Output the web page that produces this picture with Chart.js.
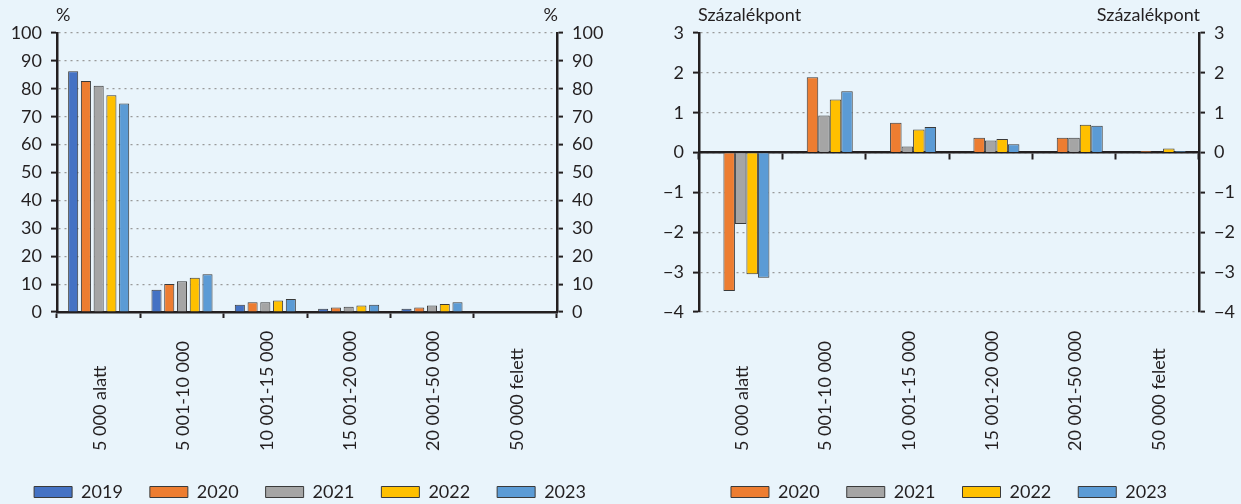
<!DOCTYPE html>
<html>
<head>
<meta charset="utf-8">
<script src="https://cdn.jsdelivr.net/npm/chart.js@4.4.1/dist/chart.umd.min.js"></script>
<style>
  html, body { margin: 0; padding: 0; background: #E9F4FB; }
  #wrap { position: relative; width: 1241px; height: 504px; }
  canvas { position: absolute; top: 0; }
</style>
</head>
<body>
<div id="wrap">
  <canvas id="left" width="620" height="504" style="left:0"></canvas>
  <canvas id="right" width="621" height="504" style="left:620px"></canvas>
</div>
<script>
const categories = ['5 000 alatt', '5 001-10 000', '10 001-15 000', '15 001-20 000', '20 001-50 000', '50 000 felett'];
const years = ['2019', '2020', '2021', '2022', '2023'];
const colors = ['#4472C4', '#ED7D31', '#A5A5A5', '#FFC000', '#5B9BD5'];

// megoszlás (%)
const share2019 = [86.3, 8.0, 2.6, 1.2, 1.2, 0.1];
const share2020 = [82.8, 10.0, 3.5, 1.6, 1.6, 0.1];
const share2021 = [81.1, 11.0, 3.5, 1.9, 2.3, 0.1];
const share2022 = [77.7, 12.3, 4.1, 2.3, 2.9, 0.1];
const share2023 = [74.7, 13.5, 4.7, 2.6, 3.5, 0.1];

// változás előző évhez képest (százalékpont)
const change2019 = [null, null, null, null, null, null];
const change2020 = [-3.47, 1.89, 0.75, 0.37, 0.37, 0.04];
const change2021 = [-1.79, 0.93, 0.15, 0.30, 0.37, -0.01];
const change2022 = [-3.05, 1.33, 0.58, 0.34, 0.70, 0.10];
const change2023 = [-3.14, 1.54, 0.64, 0.21, 0.67, 0.04];

const leftTicks = [0, 10, 20, 30, 40, 50, 60, 70, 80, 90, 100];
const rightTicks = [-4, -3, -2, -1, 0, 1, 2, 3];

const ink = '#231F20';
Chart.defaults.font.family = 'Lato';
Chart.defaults.font.size = 18;
Chart.defaults.color = ink;

// unit titles and rotated category labels
const extraText = {
  id: 'extraText',
  afterDraw(chart, args, opts) {
    const { ctx, chartArea, scales } = chart;
    ctx.save();
    ctx.fillStyle = ink;
    ctx.font = '18px Lato';
    ctx.textBaseline = 'alphabetic';
    ctx.textAlign = 'left';
    ctx.fillText(opts.unit, chartArea.left - 1, 21);
    ctx.textAlign = 'right';
    ctx.fillText(opts.unit, chartArea.right + 1, 21);

    ctx.textAlign = 'left';
    ctx.textBaseline = 'middle';
    categories.forEach((c, i) => {
      const x = scales.x.getPixelForValue(i);
      ctx.save();
      ctx.translate(x + 1.5, 451);
      ctx.rotate(-Math.PI / 2);
      ctx.fillText(c, 0, 0);
      ctx.restore();
    });
    ctx.restore();
  }
};

function yAxis(pos, ticks, width, main) {
  return {
    position: pos,
    min: ticks[0],
    max: ticks[ticks.length - 1],
    afterBuildTicks: s => { s.ticks = ticks.map(v => ({ value: v })); },
    afterFit: s => { s.width = width; },
    border: { color: ink, width: 2.5, dash: [2, 4] },
    grid: { drawOnChartArea: main, color: '#9A9A9A', lineWidth: 1.2, tickColor: ink, tickLength: 6, tickWidth: 2 },
    ticks: { autoSkip: false, padding: 9, color: ink, callback: v => String(v).replace('-', '\u2212') }
  };
}

function makeSets(series, names) {
  return series.map((data, i) => ({
    label: names[i],
    data: data,
    backgroundColor: colors[i],
    borderColor: '#3A3A3A',
    borderWidth: 1
  }));
}

function legendOpts(full) {
  return {
    position: 'bottom',
    fullSize: full,
    labels: {
      boxWidth: 38,
      boxHeight: 11,
      padding: 27,
      color: ink,
      font: { size: 18 },
      filter: (item, data) => data.datasets[item.datasetIndex].data.some(v => v !== null)
    }
  };
}

new Chart(document.getElementById('left'), {
  type: 'bar',
  data: {
    labels: categories,
    datasets: makeSets([share2019, share2020, share2021, share2022, share2023], years)
  },
  options: {
    responsive: false,
    animation: false,
    categoryPercentage: 0.765,
    barPercentage: 0.79,
    layout: { padding: { top: 33, bottom: -7, left: 0, right: 0 } },
    scales: {
      x: {
        afterFit: s => { s.height = 144; },
        border: { color: ink, width: 2.5 },
        grid: { drawOnChartArea: false, offset: true, tickColor: ink, tickLength: 6, tickWidth: 2 },
        ticks: { display: false }
      },
      y: yAxis('left', leftTicks, 57, true),
      y2: yAxis('right', leftTicks, 63, false)
    },
    plugins: {
      legend: legendOpts(true),
      tooltip: { enabled: false },
      extraText: { unit: '%' }
    }
  },
  plugins: [extraText]
});

new Chart(document.getElementById('right'), {
  type: 'bar',
  data: {
    labels: categories,
    datasets: makeSets([change2019, change2020, change2021, change2022, change2023], years)
  },
  options: {
    responsive: false,
    animation: false,
    categoryPercentage: 0.69,
    barPercentage: 1.0,
    layout: { padding: { top: 33, bottom: -7, left: 0, right: 0 } },
    scales: {
      x: {
        afterFit: s => { s.height = 144; },
        border: { display: false },
        grid: { display: false },
        ticks: { display: false }
      },
      x2: {
        type: 'category',
        axis: 'x',
        position: { y: 0 },
        offset: true,
        border: { color: ink, width: 2.5 },
        grid: { drawOnChartArea: false, offset: true, tickColor: ink, tickLength: 6, tickWidth: 2 },
        ticks: { display: false }
      },
      y: yAxis('left', rightTicks, 79, true),
      y2: yAxis('right', rightTicks, 42, false)
    },
    plugins: {
      legend: legendOpts(false),
      tooltip: { enabled: false },
      extraText: { unit: 'Százalékpont' }
    }
  },
  plugins: [extraText]
});
</script>
</body>
</html>
